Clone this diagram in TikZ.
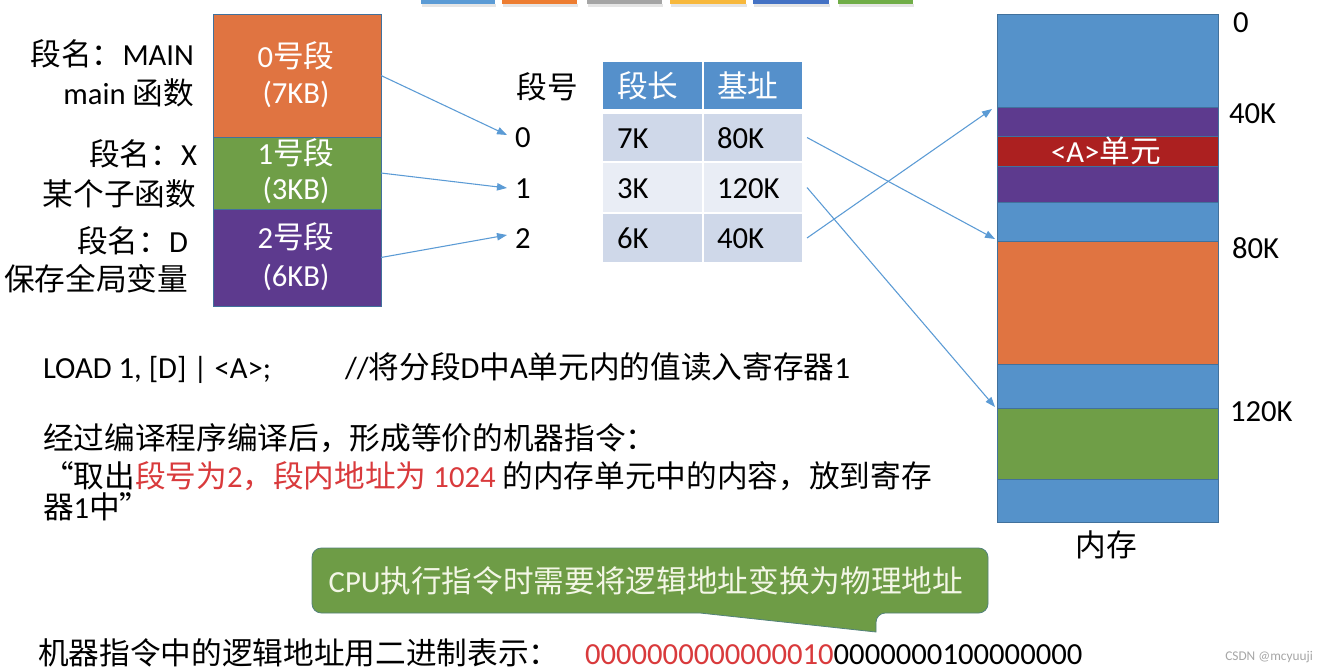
\documentclass[tikz,border=0pt]{standalone}
\usepackage{fontspec}
\setmainfont{Carlito}
\newfontfamily\zh{Noto Sans CJK SC}
\usetikzlibrary{arrows.meta}
\definecolor{memblue}{HTML}{5592CA}
\definecolor{segorange}{HTML}{E07441}
\definecolor{seggreen}{HTML}{6F9E47}
\definecolor{segpurple}{HTML}{5D3A8E}
\definecolor{segred}{HTML}{AC2020}
\definecolor{hdrblue}{HTML}{5590CB}
\definecolor{rowdark}{HTML}{CFD8E9}
\definecolor{rowlight}{HTML}{E9EDF5}
\definecolor{arrowblue}{HTML}{5B9BD5}
\definecolor{bordc}{HTML}{41719C}
\definecolor{redtext}{HTML}{D93A3C}
\definecolor{calloutgreen}{HTML}{6E9C46}
\definecolor{callouttext}{HTML}{F3F6E6}
\definecolor{barA}{HTML}{5B9BD5}
\definecolor{barB}{HTML}{ED7D31}
\definecolor{barC}{HTML}{A5A5A5}
\definecolor{barD}{HTML}{F7B83C}
\definecolor{barE}{HTML}{4472C4}
\definecolor{barF}{HTML}{70AD47}
\begin{document}
\begin{tikzpicture}[x=0.75pt,y=-0.75pt,
  txt/.style={inner sep=0pt, outer sep=0pt, font=\fontsize{23}{28}\selectfont},
  wtxt/.style={txt, text=white},
  box/.style={draw=bordc, line width=0.6pt, inner sep=0pt, outer sep=0pt, anchor=north west, minimum width=126pt},
  band/.style={draw=bordc, line width=0.6pt, inner sep=0pt, outer sep=0pt, anchor=north west, minimum width=165.75pt},
  cell/.style={inner sep=0pt, outer sep=0pt, anchor=north west},
  conn/.style={draw=arrowblue, line width=0.8pt, -{Triangle[length=7.5pt,width=5.5pt]}},
  callout/.style={draw=bordc!60!calloutgreen, line width=0.6pt, fill=calloutgreen},
]
\useasboundingbox[fill=white] (0,0) rectangle (1330,671);

% top colour strip
\foreach \a/\b/\c in {421/495/barA, 502/577/barB, 587/662/barC, 670/746/barD, 753/829/barE, 838/913/barF}{
  \fill[black!10] (\a+1,4) rectangle (\b+1,7);
  \fill[\c] (\a,0) rectangle (\b,4);
}

% logical segments
\node[box, fill=segorange, minimum height=92.25pt] (seg0) at (213,14) {};
\node[box, fill=seggreen, minimum height=54pt] (seg1) at (213,137) {};
\node[box, fill=segpurple, minimum height=72.75pt] (seg2) at (213,209) {};

\node[wtxt, anchor=base] (s0a) at (296,67) {0{\zh 号段}};
\node[wtxt, anchor=base] (s0b) at (296,103) {(7KB)};
\node[wtxt, anchor=base] (s1a) at (296,164) {1{\zh 号段}};
\node[wtxt, anchor=base] (s1b) at (296,199) {(3KB)};
\node[wtxt, anchor=base] (s2a) at (296,248) {2{\zh 号段}};
\node[wtxt, anchor=base] (s2b) at (296,286) {(6KB)};

\node[txt, anchor=base east] (l0a) at (194,65) {{\zh 段名：}MAIN};
\node[txt, anchor=base east] (l0b) at (194,104) {main {\zh 函数}};
\node[txt, anchor=base east] (l1a) at (197,165) {{\zh 段名：}X};
\node[txt, anchor=base east] (l1b) at (196,205) {\zh 某个子函数};
\node[txt, anchor=base east] (l2a) at (188,252) {{\zh 段名：}D};
\node[txt, anchor=base east] (l2b) at (188,290) {\zh 保存全局变量};

% segment table
\node[txt, anchor=base] (hnum) at (547,98) {\zh 段号};
\node[txt, anchor=base] (n0) at (523,147) {0};
\node[txt, anchor=base] (n1) at (523,198) {1};
\node[txt, anchor=base] (n2) at (523,248) {2};
\coordinate (n0in) at (507,135);
\coordinate (n1in) at (507,188);
\coordinate (n2in) at (507,235);

\node[cell, fill=hdrblue, minimum width=74.25pt, minimum height=35.25pt] (h1) at (603,62) {};
\node[cell, fill=hdrblue, minimum width=73.5pt, minimum height=35.25pt] (h2) at (704,62) {};
\node[cell, fill=rowdark, minimum width=74.25pt, minimum height=35.25pt] (a1) at (603,114) {};
\node[cell, fill=rowdark, minimum width=73.5pt, minimum height=35.25pt] (b1) at (704,114) {};
\node[cell, fill=rowlight, minimum width=74.25pt, minimum height=36.75pt] (a2) at (603,163) {};
\node[cell, fill=rowlight, minimum width=73.5pt, minimum height=36.75pt] (b2) at (704,163) {};
\node[cell, fill=rowdark, minimum width=74.25pt, minimum height=36pt] (a3) at (603,214) {};
\node[cell, fill=rowdark, minimum width=73.5pt, minimum height=36pt] (b3) at (704,214) {};

\node[wtxt, anchor=base west] (th1) at (617,97) {\zh 段长};
\node[wtxt, anchor=base west] (th2) at (717,97) {\zh 基址};
\node[txt, anchor=base west] (ta1) at (617,148) {7K};
\node[txt, anchor=base west] (tb1) at (717,148) {80K};
\node[txt, anchor=base west] (ta2) at (617,198) {3K};
\node[txt, anchor=base west] (tb2) at (717,198) {120K};
\node[txt, anchor=base west] (ta3) at (617,248) {6K};
\node[txt, anchor=base west] (tb3) at (717,248) {40K};

% memory
\node[band, fill=memblue, minimum height=69.75pt] (m1) at (997,14) {};
\node[band, fill=segpurple, minimum height=21.75pt] (mp1) at (997,107) {};
\node[band, fill=segred, minimum height=22.5pt] (mr) at (997,136) {};
\node[band, fill=segpurple, minimum height=27pt] (mp2) at (997,166) {};
\node[band, fill=memblue, minimum height=29.25pt] (m2) at (997,202) {};
\node[band, fill=segorange, minimum height=92.25pt] (mo) at (997,241) {};
\node[band, fill=memblue, minimum height=33pt] (m3) at (997,364) {};
\node[band, fill=seggreen, minimum height=53.25pt] (mg) at (997,408) {};
\node[band, fill=memblue, minimum height=32.25pt] (m4) at (997,479) {};

\node[wtxt, anchor=base] (aunit) at (1106,162) {<A>{\zh 单元}};
\node[txt, anchor=base] (memlbl) at (1106,556) {\zh 内存};
\node[txt, anchor=base west] (k0) at (1233,32) {0};
\node[txt, anchor=base west] (k40) at (1229,123) {40K};
\node[txt, anchor=base west] (k80) at (1232,258) {80K};
\node[txt, anchor=base west] (k120) at (1230,421) {120K};

% connectors
\draw[conn] (seg0.east) -- (n0in);
\draw[conn] (seg1.east) -- (n1in);
\draw[conn] (seg2.east) -- (n2in);
\draw[conn] ([xshift=3.75pt]b1.east) -- ([xshift=-1.5pt,yshift=1.5pt]mo.north west);
\draw[conn] ([xshift=3.75pt]b2.east) -- ([xshift=-1.5pt,yshift=0.75pt]mg.north west);
\draw[conn] ([xshift=3.75pt]b3.east) -- ([xshift=-3.75pt,yshift=-1.5pt]mp1.north west);

% instruction text
\node[txt, anchor=base west] (load) at (43,378) {LOAD 1, [D] | <A>;};
\node[txt, anchor=base west] (cmt) at (345,378) {//{\zh 将分段}D{\zh 中}A{\zh 单元内的值读入寄存器}1};
\node[txt, anchor=base west] (line1) at (43,449) {\zh 经过编译程序编译后，形成等价的机器指令：};
\node[txt, anchor=base west] (line2) at (43,487) {{\zh “取出}\textcolor{redtext}{{\zh 段号为}2{\zh ，段内地址为} 1024} {\zh 的内存单元中的内容，放到寄存}};
\node[txt, anchor=base west] (line3) at (43,518) {{\zh 器}1{\zh 中”}};

% callout
\draw[callout] (312,580) [rounded corners=7pt] -- (312,548) -- (988,548) -- (988,613) -- (876,613) [sharp corners] -- (876,632) -- (700,613) [rounded corners=7pt] -- (312,613) -- cycle;
\node[txt, anchor=base, text=callouttext] (cpu) at (646,592) {CPU{\zh 执行指令时需要将逻辑地址变换为物理地址}};

% binary line
\node[txt, anchor=base west] (bin1) at (38,664) {\zh 机器指令中的逻辑地址用二进制表示：};
\node[txt, anchor=base west] (bin2) at (585,664) {\textcolor{redtext}{0000000000000010}0000000100000000};
\node[inner sep=0pt, anchor=base west, text=black!35, font=\fontsize{10}{12}\selectfont] (wm) at (1225,660) {CSDN @mcyuuji};
\end{tikzpicture}
\end{document}
